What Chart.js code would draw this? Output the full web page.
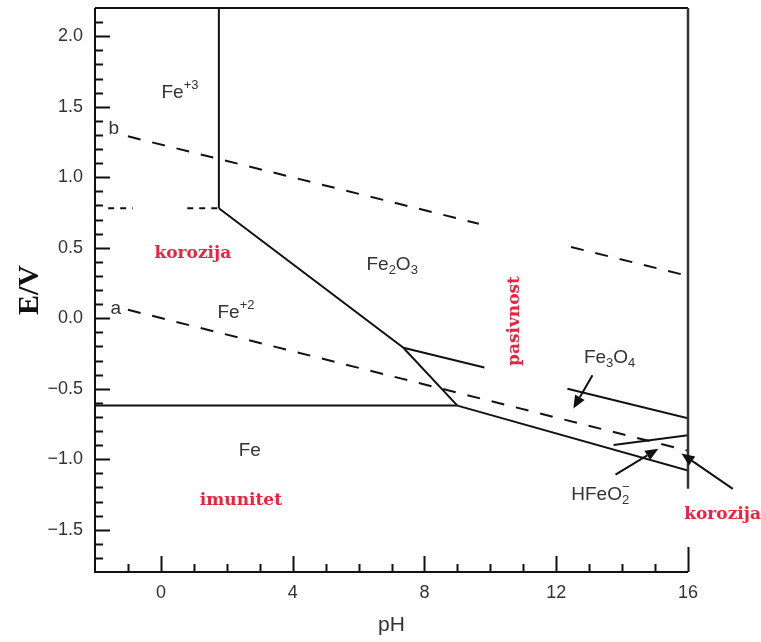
<!DOCTYPE html>
<html>
<head>
<meta charset="utf-8">
<script src="https://cdn.jsdelivr.net/npm/chart.js@4.4.1/dist/chart.umd.min.js"></script>
<style>
html,body{margin:0;padding:0;background:#fff;}
#wrap{width:761px;height:642px;}
</style>
</head>
<body>
<div id="wrap"><canvas id="c" width="761" height="642"></canvas></div>
<script>
// ---- axis ranges ----
const pHRange = [-2, 16];
const ERange = [-1.8, 2.2];
const xMajorTicks = [0, 4, 8, 12, 16];

// ---- boundary lines [pH, E] ----
const fe3Fe2o3Boundary = [[1.76, 2.2], [1.76, 0.78]];
const fe3Fe2BoundaryA = [[-1.6, 0.78], [-0.85, 0.78]];
const fe3Fe2BoundaryB = [[0.8, 0.78], [1.76, 0.78]];
const fe2Fe2o3Boundary = [[1.76, 0.78], [7.36, -0.21], [9.0, -0.62]];
const fe2o3Fe3o4BoundaryA = [[7.36, -0.21], [9.82, -0.35]];
const fe2o3Fe3o4BoundaryB = [[12.34, -0.50], [16, -0.71]];
const feFe2Boundary = [[-2, -0.62], [9.0, -0.62]];
const feFe3o4Boundary = [[9.0, -0.62], [16, -1.08]];
const hfeo2Boundary = [[13.74, -0.90], [16, -0.83]];
// water stability lines
const waterLineA = [[-1.0, 0.06], [16, -0.94]];
const waterLineB1 = [[-1.0, 1.29], [9.65, 0.67]];
const waterLineB2 = [[12.45, 0.505], [16, 0.30]];
const rightFrameBottomE = -1.21;

// ---- labels: [text parts, pH, E, style] ----
const regionLabels = [
  [[['Fe'], ['+3', 'sup']], 0.58, 1.60, 'black'],
  [[['b']], -1.43, 1.34, 'black'],
  [[['a']], -1.37, 0.07, 'black'],
  [[['Fe'], ['2', 'sub'], ['O'], ['3', 'sub']], 7.02, 0.38, 'black'],
  [[['Fe'], ['+2', 'sup']], 2.28, 0.04, 'black'],
  [[['Fe'], ['3', 'sub'], ['O'], ['4', 'sub']], 13.62, -0.28, 'black'],
  [[['Fe']], 2.7, -0.94, 'black'],
  [[['HFeO'], ['2', 'sub', '\u2212']], 13.34, -1.25, 'black'],
  [[['korozija']], 0.97, 0.46, 'red'],
  [[['imunitet']], 2.43, -1.29, 'red'],
  [[['korozija']], 17.05, -1.39, 'red'],
  [[['pasivnost']], 10.73, -0.02, 'redv']
];
// arrows: [fromPH, fromE, toPH, toE]
const arrows = [
  [13.10, -0.405, 12.52, -0.64],
  [13.80, -1.11, 15.10, -0.925],
  [17.36, -1.21, 15.80, -0.96]
];

const toXY = arr => arr.map(p => ({x: p[0], y: p[1]}));
function lineDs(arr, dash, width) {
  return {
    data: toXY(arr), showLine: true, pointRadius: 0, borderColor: '#111',
    borderWidth: width || 2, borderDash: dash || [], fill: false, tension: 0
  };
}

const datasets = [
  lineDs(fe3Fe2o3Boundary),
  lineDs(fe3Fe2BoundaryA, [6, 6]),
  lineDs(fe3Fe2BoundaryB, [6, 6]),
  lineDs(fe2Fe2o3Boundary),
  lineDs(fe2o3Fe3o4BoundaryA),
  lineDs(fe2o3Fe3o4BoundaryB),
  lineDs(feFe2Boundary),
  lineDs(feFe3o4Boundary),
  lineDs(hfeo2Boundary),
  lineDs(waterLineA, [13, 12]),
  lineDs(waterLineB1, [13, 12]),
  lineDs(waterLineB2, [13, 12])
];

const SANS = '"Liberation Sans", Arial, sans-serif';
const SERIF = '"DejaVu Serif", Georgia, serif';

function drawRich(ctx, parts, x, y, color) {
  const base = 19, small = 13;
  let w = 0;
  const seg = parts.map(p => {
    const kind = p[1];
    ctx.font = (kind ? small : base) + 'px ' + SANS;
    let sw = ctx.measureText(p[0]).width;
    if (p[2]) sw = Math.max(sw, ctx.measureText(p[2]).width);
    w += sw;
    return sw;
  });
  let cx = x - w / 2;
  ctx.fillStyle = color;
  ctx.textBaseline = 'middle';
  ctx.textAlign = 'left';
  parts.forEach((p, i) => {
    const kind = p[1];
    ctx.font = (kind ? small : base) + 'px ' + SANS;
    let dy = 0;
    if (kind === 'sup') dy = -7;
    if (kind === 'sub') dy = 6;
    ctx.fillText(p[0], cx, y + dy);
    if (p[2]) ctx.fillText(p[2], cx, y - 7);
    cx += seg[i];
  });
}

const decor = {
  id: 'decor',
  afterDraw(chart) {
    const ctx = chart.ctx, xs = chart.scales.x, ys = chart.scales.y;
    const a = chart.chartArea;
    ctx.save();
    // frame
    ctx.strokeStyle = '#111';
    ctx.lineWidth = 2;
    ctx.beginPath();
    ctx.moveTo(a.left, a.top); ctx.lineTo(a.right, a.top);
    ctx.moveTo(a.left, a.top); ctx.lineTo(a.left, a.bottom); ctx.lineTo(a.right, a.bottom);
    ctx.stroke();
    ctx.strokeStyle = '#333';
    ctx.lineWidth = 2.5;
    ctx.beginPath();
    ctx.moveTo(a.right, a.top); ctx.lineTo(a.right, ys.getPixelForValue(rightFrameBottomE));
    ctx.stroke();
    // inward ticks
    ctx.strokeStyle = '#111';
    ctx.lineWidth = 2;
    ctx.beginPath();
    ys.ticks.forEach(t => {
      const v = t.value;
      if (v <= ERange[0] + 1e-6 || v >= ERange[1] - 1e-6) return;
      const major = Math.abs(v * 2 - Math.round(v * 2)) < 1e-6;
      const py = Math.round(ys.getPixelForValue(v)) + 0.5;
      ctx.moveTo(a.left, py); ctx.lineTo(a.left + (major ? 15 : 8), py);
    });
    xs.ticks.forEach(t => {
      const v = t.value;
      if (v <= pHRange[0] + 1e-6) return;
      const major = xMajorTicks.includes(Math.round(v)) && Math.abs(v - Math.round(v)) < 1e-6;
      const px = Math.round(xs.getPixelForValue(v)) + 0.5;
      let len = major ? 16 : 8;
      if (v >= pHRange[1] - 1e-6) len = 25;
      ctx.moveTo(px, a.bottom); ctx.lineTo(px, a.bottom - len);
    });
    ctx.stroke();
    // labels
    regionLabels.forEach(l => {
      const px = xs.getPixelForValue(l[1]), py = ys.getPixelForValue(l[2]);
      if (l[3] === 'black') {
        drawRich(ctx, l[0], px, py, '#333');
      } else {
        ctx.save();
        ctx.fillStyle = '#f2203e';
        ctx.font = 'bold 17px ' + SERIF;
        ctx.textAlign = 'center';
        ctx.textBaseline = 'middle';
        ctx.translate(px, py);
        if (l[3] === 'redv') ctx.rotate(-Math.PI / 2);
        ctx.fillText(l[0][0][0], 0, 0);
        ctx.restore();
      }
    });
    // arrows
    ctx.strokeStyle = '#111';
    ctx.fillStyle = '#111';
    ctx.lineWidth = 2;
    arrows.forEach(r => {
      const x1 = xs.getPixelForValue(r[0]), y1 = ys.getPixelForValue(r[1]);
      const x2 = xs.getPixelForValue(r[2]), y2 = ys.getPixelForValue(r[3]);
      const ang = Math.atan2(y2 - y1, x2 - x1);
      const hl = 13, hw = 5.5;
      const bx = x2 - hl * Math.cos(ang), by = y2 - hl * Math.sin(ang);
      ctx.beginPath();
      ctx.moveTo(x1, y1); ctx.lineTo(bx, by);
      ctx.stroke();
      ctx.beginPath();
      ctx.moveTo(x2, y2);
      ctx.lineTo(bx + hw * Math.sin(ang), by - hw * Math.cos(ang));
      ctx.lineTo(bx - hw * Math.sin(ang), by + hw * Math.cos(ang));
      ctx.closePath();
      ctx.fill();
    });
    ctx.restore();
  }
};

new Chart(document.getElementById('c'), {
  type: 'scatter',
  data: {datasets},
  options: {
    responsive: false,
    animation: false,
    events: [],
    layout: {padding: {top: 8, right: 73, left: 0, bottom: 0}},
    plugins: {legend: {display: false}, tooltip: {enabled: false}},
    scales: {
      x: {
        type: 'linear', min: pHRange[0], max: pHRange[1],
        grid: {display: false, drawTicks: false},
        border: {display: false},
        ticks: {
          stepSize: 1, autoSkip: false, maxRotation: 0, padding: 10,
          color: '#333', font: {family: SANS, size: 18},
          callback: v => (xMajorTicks.includes(v) ? String(v) : '')
        },
        title: {display: true, text: 'pH', color: '#333', font: {family: SANS, size: 21}, padding: {top: 0, bottom: 4}},
        afterFit: s => { s.height = 70; s.paddingLeft = 0; s.paddingRight = 0; }
      },
      y: {
        type: 'linear', min: ERange[0], max: ERange[1],
        grid: {display: false, drawTicks: false},
        border: {display: false},
        ticks: {
          stepSize: 0.1, autoSkip: false, padding: 12,
          color: '#333', font: {family: SANS, size: 18},
          callback: v => {
            if (Math.abs(v * 2 - Math.round(v * 2)) > 1e-6) return '';
            if (v <= ERange[0] + 1e-6 || v >= ERange[1] - 1e-6) return '';
            const s = (Math.round(v * 10) / 10).toFixed(1);
            return s.replace('-', '\u2212');
          }
        },
        title: {display: true, text: 'E/V', color: '#111', font: {family: '"Liberation Serif", "Times New Roman", serif', size: 30, weight: 'bold'}, padding: {top: 12, bottom: 0}},
        afterFit: s => { s.width = 95; s.paddingTop = 0; s.paddingBottom = 0; }
      }
    }
  },
  plugins: [decor]
});
</script>
</body>
</html>
